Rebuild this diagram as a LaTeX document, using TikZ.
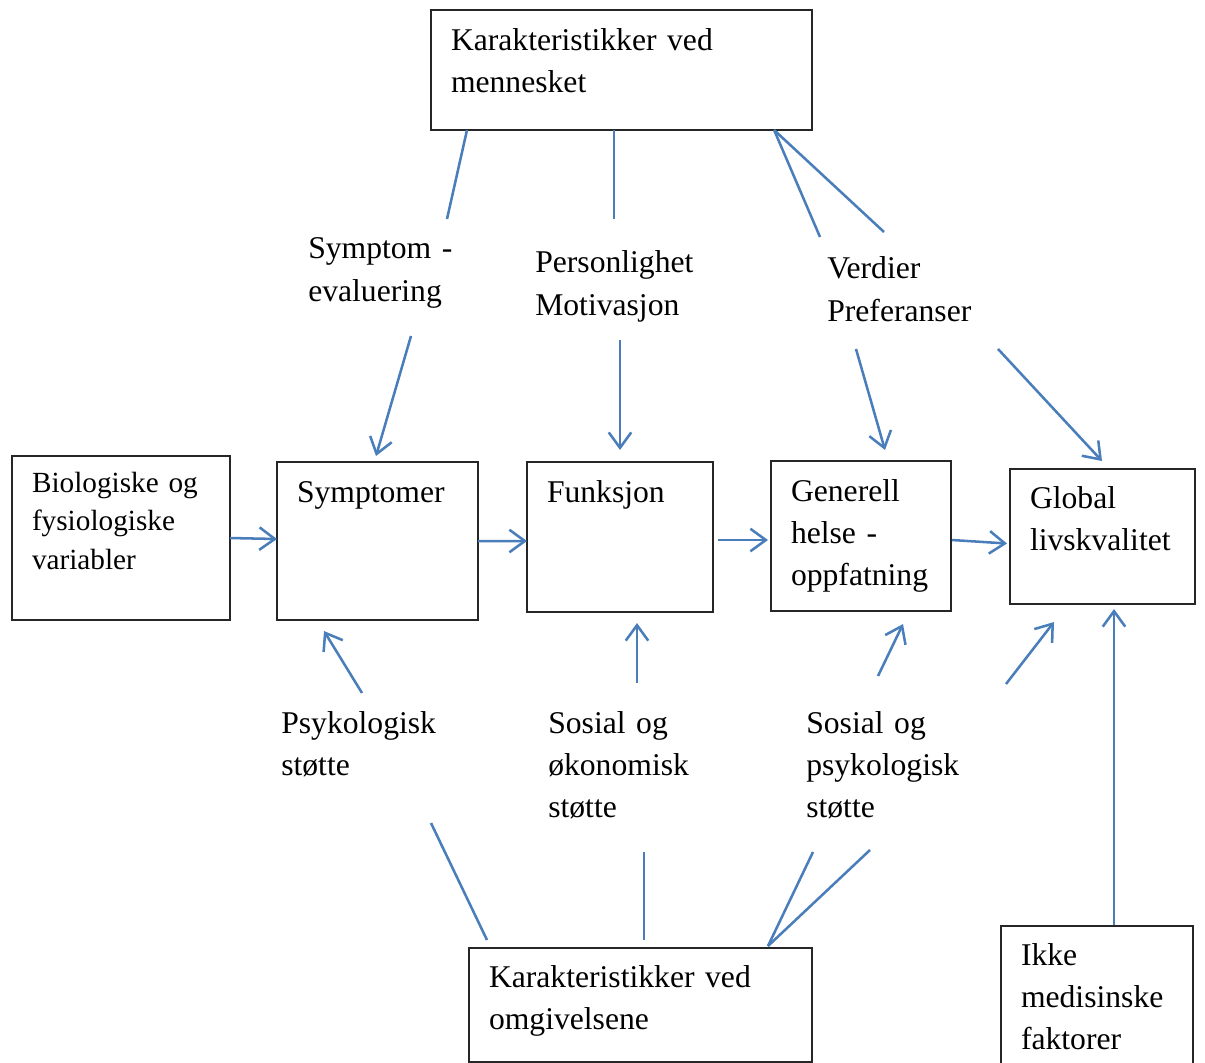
\documentclass[tikz,border=0pt]{standalone}
\usepackage{fontspec}
\setmainfont{Liberation Serif}
\usetikzlibrary{arrows.meta}
\definecolor{linkblue}{RGB}{74,126,187}
\newcommand{\bigtxt}{\fontsize{22.5pt}{30pt}\selectfont}
\newcommand{\smalltxt}{\fontsize{20.8pt}{27.4pt}\selectfont}

\begin{document}
\begin{tikzpicture}[x=0.025cm, y=-0.025cm,
	box/.style={draw=black!85, line width=1.2pt, outer sep=0pt, anchor=north west, align=left, inner xsep=0.5cm, inner ysep=0pt, text height=1cm, font=\bigtxt},
	lbl/.style={anchor=base west, align=left, inner sep=0pt, text width=4.5cm, font=\bigtxt},
	link/.style={color=linkblue, line width=1.8pt},
	arr/.style={link, -{Straight Barb[length=11pt, width=16pt]}}]
	\useasboundingbox (0,0) rectangle (1205,1063);
	\clip (0,0) rectangle (1205,1063);

	% boxes
	\node[box, text width=8.525cm, text depth=2cm]                          (hum)  at (431,10)  {Karakteristikker ved\\mennesket};
	\node[box, font=\smalltxt, text height=0.9cm, text width=4.45cm, text depth=3.2cm] (bio) at (12,456) {Biologiske og\\fysiologiske\\variabler};
	\node[box, text width=4.025cm, text depth=2.95cm]                       (sym)  at (277,462) {Symptomer};
	\node[box, text width=3.65cm, text depth=2.75cm]                        (fun)  at (527,462) {Funksjon};
	\node[box, text width=3.5cm, text depth=2.75cm]                         (gen)  at (771,461) {Generell\\helse -\\oppfatning};
	\node[box, text height=0.975cm, text width=3.625cm, text depth=2.4cm]   (glo)  at (1010,469) {Global\\livskvalitet};
	\node[box, text height=0.975cm, text width=7.575cm, text depth=1.875cm] (env)  at (469,948) {Karakteristikker ved\\omgivelsene};
	\node[box, text height=0.975cm, text width=3.8cm, text depth=4cm]       (ikke) at (1001,926) {Ikke\\medisinske\\faktorer};

	% labels
	\node[lbl] (eval)  at (308,259) {Symptom -\\evaluering};
	\node[lbl] (pers)  at (535,273) {Personlighet\\Motivasjon};
	\node[lbl] (verd)  at (827,279) {Verdier\\Preferanser};
	\node[lbl] (psyk)  at (281,733) {Psykologisk\\støtte};
	\node[lbl] (sosok) at (548,733) {Sosial og\\økonomisk\\støtte};
	\node[lbl] (sosps) at (806,733) {Sosial og\\psykologisk\\støtte};

	% free ends
	\coordinate (evalT)   at (447,219);
	\coordinate (persT)   at (614,219);
	\coordinate (verdT1)  at (820,237);
	\coordinate (verdT2)  at (884,232);
	\coordinate (evalB)   at (411,336);
	\coordinate (persB)   at (620,340);
	\coordinate (verdB1)  at (856,349);
	\coordinate (verdB2)  at (998,349);
	\coordinate (psykT)   at (362,693);
	\coordinate (sosokT)  at (637,683);
	\coordinate (sospsT1) at (878,676);
	\coordinate (sospsT2) at (1006,684);
	\coordinate (psykB)   at (431,823);
	\coordinate (sosokB)  at (644,852);
	\coordinate (sospsB1) at (813,852);
	\coordinate (sospsB2) at (870,850);

	% from the person
	\path[link] ([shift={(36,0)}]hum.south west) edge (evalT);
	\path[link] ([shift={(183,0)}]hum.south west) edge (persT);
	\path[link] ([shift={(-38,0)}]hum.south east) edge (verdT1);
	\path[link] ([shift={(-38,0)}]hum.south east) edge (verdT2);
	\path[arr] (evalB) edge ([shift={(99,-6)}]sym.north west);
	\path[arr] (persB) edge ([shift={(93,-12)}]fun.north west);
	\path[arr] (verdB1) edge ([shift={(114,-11)}]gen.north west);
	\path[arr] (verdB2) edge ([shift={(92,-8)}]glo.north west);

	% main chain
	\path[arr] (bio.east) edge ([shift={(0,-2)}]sym.west);
	\path[arr] (sym.east) edge ([shift={(0,4)}]fun.west);
	\path[arr] ([shift={(5,3)}]fun.east) edge ([shift={(-3,4)}]gen.west);
	\path[arr] ([shift={(1,4)}]gen.east) edge ([shift={(-3,7)}]glo.west);

	% from the surroundings
	\path[arr] (psykT) edge ([shift={(47,11)}]sym.south west);
	\path[arr] (sosokT) edge ([shift={(110,11)}]fun.south west);
	\path[arr] (sospsT1) edge ([shift={(132,13)}]gen.south west);
	\path[arr] (sospsT2) edge ([shift={(44,18)}]glo.south west);
	\path[arr] ([shift={(113,-1)}]ikke.north west) edge ([shift={(104,5)}]glo.south west);
	\path[link] (psykB) edge ([shift={(18,-8)}]env.north west);
	\path[link] (sosokB) edge ([shift={(175,-8)}]env.north west);
	\path[link] (sospsB1) edge ([shift={(299,-2)}]env.north west);
	\path[link] (sospsB2) edge ([shift={(299,-2)}]env.north west);
\end{tikzpicture}
\end{document}
